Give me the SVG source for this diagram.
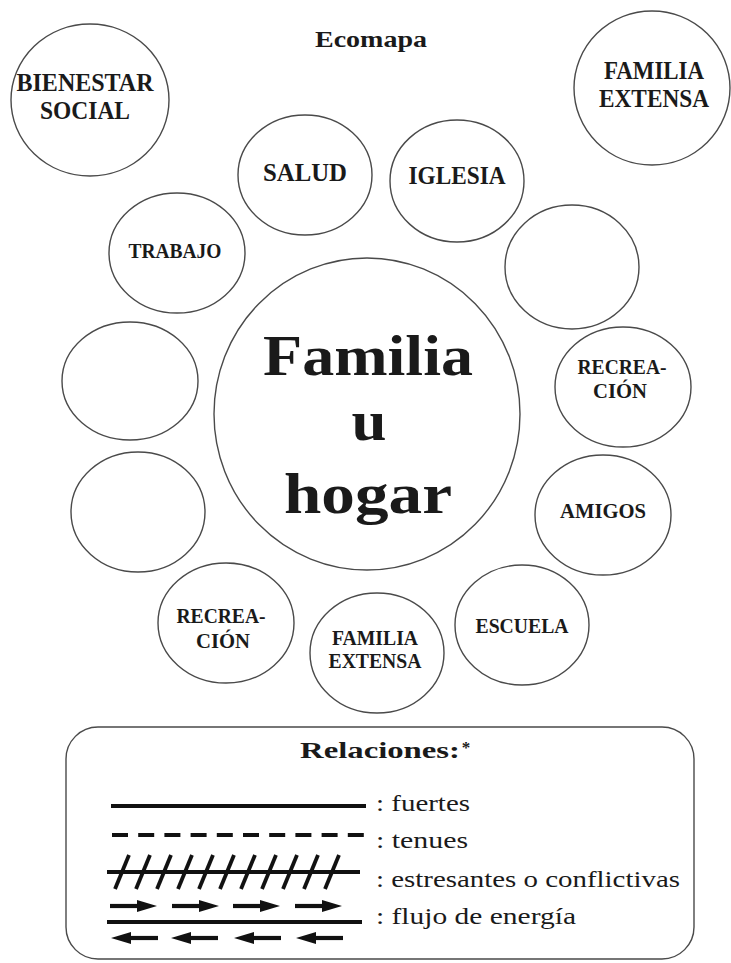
<svg xmlns="http://www.w3.org/2000/svg" width="731" height="963" viewBox="0 0 731 963">
<style>
.c{fill:#fff;stroke:#4a4a4a;stroke-width:1.4}
.l{font-family:"Liberation Serif","Times New Roman",serif;font-weight:bold;fill:#1a1a1a;text-anchor:middle}
.t{font-family:"Liberation Serif","Times New Roman",serif;fill:#1a1a1a;font-size:23px}
.k{stroke:#111;stroke-width:4.2;fill:none}
</style>
<defs>
<g id="ar"><line x1="0" y1="0" x2="32" y2="0" stroke="#111" stroke-width="4.2"/><polygon points="27,-6 47,0 27,6" fill="#111"/></g>
</defs>
<rect width="731" height="963" fill="#fff"/>
<text class="l" x="371" y="47" font-size="23" textLength="112" lengthAdjust="spacingAndGlyphs">Ecomapa</text>

<g id="bienestar"><ellipse class="c" cx="90" cy="100" rx="79" ry="76"/>
<text class="l" x="85" y="91" font-size="25" textLength="137" lengthAdjust="spacingAndGlyphs">BIENESTAR</text>
<text class="l" x="85" y="119" font-size="25" textLength="90" lengthAdjust="spacingAndGlyphs">SOCIAL</text></g>

<g id="familia-extensa-top"><ellipse class="c" cx="652" cy="88" rx="78" ry="77"/>
<text class="l" x="654" y="79" font-size="25" textLength="100" lengthAdjust="spacingAndGlyphs">FAMILIA</text>
<text class="l" x="654" y="107" font-size="25" textLength="110" lengthAdjust="spacingAndGlyphs">EXTENSA</text></g>

<g id="salud"><ellipse class="c" cx="305" cy="175" rx="67" ry="60"/>
<text class="l" x="305" y="181" font-size="25" textLength="84" lengthAdjust="spacingAndGlyphs">SALUD</text></g>

<g id="iglesia"><ellipse class="c" cx="457" cy="181" rx="67" ry="61"/>
<text class="l" x="457" y="184" font-size="25" textLength="97" lengthAdjust="spacingAndGlyphs">IGLESIA</text></g>

<g id="trabajo"><ellipse class="c" cx="177" cy="253" rx="68" ry="60"/>
<text class="l" x="175" y="258" font-size="21" textLength="93" lengthAdjust="spacingAndGlyphs">TRABAJO</text></g>

<g id="vacio-1"><ellipse class="c" cx="572" cy="267" rx="67" ry="62"/></g>

<g id="familia-hogar"><ellipse class="c" cx="367" cy="414" rx="153" ry="156"/>
<text class="l" x="368" y="375" font-size="58" textLength="210" lengthAdjust="spacingAndGlyphs">Familia</text>
<text class="l" x="369" y="440" font-size="58" textLength="35" lengthAdjust="spacingAndGlyphs">u</text>
<text class="l" x="368" y="513" font-size="58" textLength="168" lengthAdjust="spacingAndGlyphs">hogar</text></g>

<g id="vacio-2"><ellipse class="c" cx="130" cy="381" rx="68" ry="59"/></g>

<g id="recreacion-1"><ellipse class="c" cx="623" cy="387" rx="68" ry="60"/>
<text class="l" x="622" y="374" font-size="20" textLength="89" lengthAdjust="spacingAndGlyphs">RECREA-</text>
<text class="l" x="620" y="398" font-size="20" textLength="54" lengthAdjust="spacingAndGlyphs">CIÓN</text></g>

<g id="vacio-3"><ellipse class="c" cx="138" cy="512" rx="67" ry="60"/></g>

<g id="amigos"><ellipse class="c" cx="603" cy="515" rx="68" ry="60"/>
<text class="l" x="603" y="518" font-size="21" textLength="86" lengthAdjust="spacingAndGlyphs">AMIGOS</text></g>

<g id="recreacion-2"><ellipse class="c" cx="226" cy="623" rx="68" ry="60"/>
<text class="l" x="221" y="623" font-size="20" textLength="89" lengthAdjust="spacingAndGlyphs">RECREA-</text>
<text class="l" x="223" y="648" font-size="20" textLength="54" lengthAdjust="spacingAndGlyphs">CIÓN</text></g>

<g id="familia-extensa-bottom"><ellipse class="c" cx="377" cy="653" rx="67" ry="60"/>
<text class="l" x="375" y="645" font-size="20" textLength="86" lengthAdjust="spacingAndGlyphs">FAMILIA</text>
<text class="l" x="375" y="668" font-size="20" textLength="93" lengthAdjust="spacingAndGlyphs">EXTENSA</text></g>

<g id="escuela"><ellipse class="c" cx="522" cy="625" rx="67" ry="60"/>
<text class="l" x="522" y="633" font-size="21" textLength="93" lengthAdjust="spacingAndGlyphs">ESCUELA</text></g>

<g id="leyenda">
<rect x="66" y="727" width="628" height="232" rx="32" ry="32" fill="#fff" stroke="#4a4a4a" stroke-width="1.4"/>
<text class="l" x="380" y="758" font-size="24" textLength="160" lengthAdjust="spacingAndGlyphs">Relaciones:</text>
<text class="l" x="466" y="753" font-size="17">*</text>
<line class="k" x1="111" y1="806" x2="366" y2="806"/>
<text class="t" x="376" y="811" textLength="94" lengthAdjust="spacingAndGlyphs">: fuertes</text>
<line class="k" x1="112" y1="835" x2="367" y2="835" stroke-dasharray="16 10.2"/>
<text class="t" x="376" y="848" textLength="92" lengthAdjust="spacingAndGlyphs">: tenues</text>
<line class="k" x1="107" y1="872" x2="360" y2="872"/>
<g stroke="#111" stroke-width="3.8">
<line x1="115" y1="889" x2="129" y2="855"/><line x1="136" y1="889" x2="150" y2="855"/><line x1="157" y1="889" x2="171" y2="855"/><line x1="178" y1="889" x2="192" y2="855"/><line x1="199" y1="889" x2="213" y2="855"/><line x1="220" y1="889" x2="234" y2="855"/><line x1="241" y1="889" x2="255" y2="855"/><line x1="262" y1="889" x2="276" y2="855"/><line x1="283" y1="889" x2="297" y2="855"/><line x1="304" y1="889" x2="318" y2="855"/><line x1="325" y1="889" x2="339" y2="855"/>
</g>
<text class="t" x="376" y="887" textLength="304" lengthAdjust="spacingAndGlyphs">: estresantes o conflictivas</text>
<use href="#ar" x="110" y="906"/><use href="#ar" x="172" y="906"/><use href="#ar" x="233" y="906"/><use href="#ar" x="295" y="906"/>
<line class="k" x1="107" y1="922" x2="362" y2="922"/>
<use href="#ar" transform="translate(158,938) scale(-1,1)"/><use href="#ar" transform="translate(218,938) scale(-1,1)"/><use href="#ar" transform="translate(281,938) scale(-1,1)"/><use href="#ar" transform="translate(343,938) scale(-1,1)"/>
<text class="t" x="376" y="924" textLength="200" lengthAdjust="spacingAndGlyphs">: flujo de energía</text>
</g>
</svg>
